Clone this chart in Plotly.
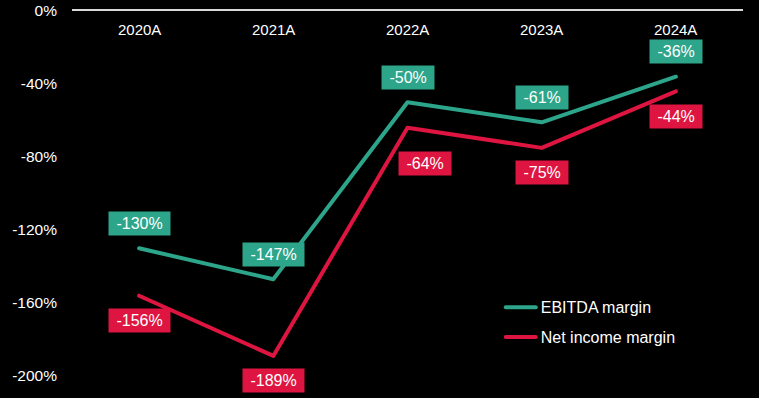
import plotly.graph_objects as go

years = ["2020A", "2021A", "2022A", "2023A", "2024A"]
ebitda_margin = [-130, -147, -50, -61, -36]
net_income_margin = [-156, -189, -64, -75, -44]
y_ticks = [0, -40, -80, -120, -160, -200]

TEAL = "#2CA58A"
RED = "#DE1540"
FONT = "Liberation Sans, Arial, sans-serif"

fig = go.Figure()
fig.add_trace(go.Scatter(x=years, y=ebitda_margin, mode="lines", name="EBITDA margin",
                         line=dict(color=TEAL, width=4), legendgroup="a"))
fig.add_trace(go.Scatter(x=years, y=net_income_margin, mode="lines", name="Net income margin",
                         line=dict(color=RED, width=4), legendgroup="b"))

for x, v in zip(years, ebitda_margin):
    fig.add_annotation(x=x, y=v, text=f" {v}% ", showarrow=False, yshift=25,
                       bgcolor=TEAL, borderpad=3, font=dict(color="white", size=16, family=FONT))
for i, (x, v) in enumerate(zip(years, net_income_margin)):
    nudged = (i == 2)  # 2022A label is moved off the line in the original
    fig.add_annotation(x=x, y=v, text=f" {v}% ", showarrow=False,
                       yshift=-36 if nudged else -25, xshift=17 if nudged else 0,
                       bgcolor=RED, borderpad=3, font=dict(color="white", size=16, family=FONT))

# category labels drawn just under the top axis line
for x in years:
    fig.add_annotation(x=x, y=1, yref="paper", yanchor="top", yshift=-8, text=x,
                       showarrow=False, font=dict(color="white", size=15, family=FONT))

fig.update_layout(
    width=759, height=398,
    paper_bgcolor="black", plot_bgcolor="black",
    margin=dict(l=72, r=16, t=11, b=22, autoexpand=False),
    font=dict(family=FONT, color="white", size=15),
    showlegend=True,
    legend=dict(x=0.639, y=0.147, xanchor="left", yanchor="middle", bgcolor="rgba(0,0,0,0)",
                font=dict(size=16, color="white"), tracegroupgap=6),
    xaxis=dict(type="category", side="top", range=[-0.5, 4.5], showticklabels=False, showline=True,
               linecolor="#D9D9D9", linewidth=2, showgrid=False, zeroline=False, ticks="",
               fixedrange=True, automargin=False),
    yaxis=dict(range=[-200, 0], tickvals=y_ticks, ticktext=[f"{t}%" for t in y_ticks],
               showgrid=False, zeroline=False, showline=False, ticks="", ticklabelstandoff=14,
               tickfont=dict(size=15.5, color="white"), fixedrange=True, automargin=False),
)

post = (
    "document.body.style.margin='0px';document.body.style.background='black';"
    "document.querySelectorAll('.scatterlayer .js-line, .legend .js-line').forEach(function(p){"
    "p.style.strokeLinecap='round';p.style.strokeLinejoin='round';});"
)
fig.write_html("out.html", config={"displayModeBar": False}, post_script=post)
